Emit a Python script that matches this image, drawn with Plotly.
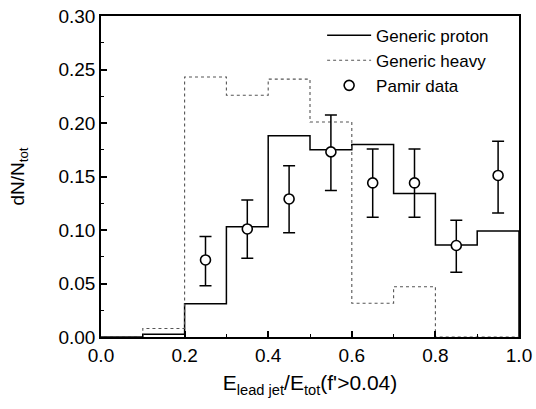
import plotly.graph_objects as go

# Bin edges and histogram contents
bin_edges = [0.0, 0.1, 0.2, 0.3, 0.4, 0.5, 0.6, 0.7, 0.8, 0.9, 1.0]
proton = [0.0, 0.0025, 0.031, 0.103, 0.188, 0.175, 0.180, 0.134, 0.086, 0.099]
heavy = [0.0, 0.008, 0.243, 0.226, 0.241, 0.201, 0.0315, 0.047, 0.0, 0.0]

# Pamir data points
data_x = [0.25, 0.35, 0.45, 0.55, 0.65, 0.75, 0.85, 0.95]
data_y = [0.072, 0.101, 0.129, 0.173, 0.144, 0.144, 0.0855, 0.151]
err_up = [0.022, 0.027, 0.031, 0.0345, 0.0317, 0.0317, 0.0235, 0.032]
err_dn = [0.024, 0.0275, 0.0315, 0.036, 0.032, 0.032, 0.025, 0.035]

x_ticks = [0.0, 0.2, 0.4, 0.6, 0.8, 1.0]
x_ticklabels = ["0.0", "0.2", "0.4", "0.6", "0.8", "1.0"]
y_ticks = [0.00, 0.05, 0.10, 0.15, 0.20, 0.25, 0.30]
y_ticklabels = ["0.00", "0.05", "0.10", "0.15", "0.20", "0.25", "0.30"]

FONT = "Liberation Sans, Arial, sans-serif"

def step(edges, vals):
    xs = [edges[0]]
    ys = [0.0]
    for i, v in enumerate(vals):
        xs += [edges[i], edges[i + 1]]
        ys += [v, v]
    xs.append(edges[-1])
    ys.append(0.0)
    return xs, ys

px_, py_ = step(bin_edges, proton)
hx_, hy_ = step(bin_edges, heavy)

fig = go.Figure()
fig.add_trace(go.Scatter(
    x=px_, y=py_, mode="lines", name="Generic proton",
    line=dict(color="black", width=1.5),
))
fig.add_trace(go.Scatter(
    x=hx_, y=hy_, mode="lines", name="Generic heavy",
    line=dict(color="#555555", width=1.1, dash="dot"),
))
fig.add_trace(go.Scatter(
    x=data_x, y=data_y, mode="markers", name="Pamir data",
    marker=dict(symbol="circle", size=10, color="white",
                line=dict(color="black", width=1.6)),
    error_y=dict(type="data", symmetric=False, array=err_up, arrayminus=err_dn,
                 color="black", thickness=1.5, width=6),
))

fig.update_layout(
    width=536, height=409,
    margin=dict(l=101, r=17, t=16, b=72, autoexpand=False),
    paper_bgcolor="white", plot_bgcolor="white",
    font=dict(family=FONT, color="black", size=19),
    showlegend=True,
    legend=dict(
        x=0.529, y=0.995, xanchor="left", yanchor="top",
        bgcolor="rgba(0,0,0,0)", font=dict(size=17, family=FONT),
        itemwidth=44, tracegroupgap=0,
    ),
    xaxis=dict(
        range=[0, 1.0], tickvals=x_ticks, ticktext=x_ticklabels,
        ticks="inside", ticklen=6, tickwidth=1.5, tickcolor="black",
        minor=dict(dtick=0.1, ticks="inside", ticklen=3, tickwidth=1.2, tickcolor="black"),
        showline=True, linecolor="black", linewidth=1.5, mirror=True,
        showgrid=False, zeroline=False, automargin=False,
        ticklabeloverflow="allow",
        tickfont=dict(size=19),
        title=dict(text="E<sub>lead jet</sub>/E<sub>tot</sub>(f'>0.04)", font=dict(size=21), standoff=11),
    ),
    yaxis=dict(
        range=[0, 0.30], tickvals=y_ticks, ticktext=y_ticklabels,
        ticks="inside", ticklen=6, tickwidth=1.5, tickcolor="black",
        minor=dict(dtick=0.025, ticks="inside", ticklen=3, tickwidth=1.2, tickcolor="black"),
        showline=True, linecolor="black", linewidth=1.5, mirror=True,
        showgrid=False, zeroline=False, automargin=False,
        ticklabeloverflow="allow",
        tickfont=dict(size=19),
        title=dict(text="dN/N<sub>tot</sub>", font=dict(size=19), standoff=29),
    ),
)

fig.write_html("out.html", config={"displayModeBar": False},
               post_script="document.body.style.margin='0px';")
